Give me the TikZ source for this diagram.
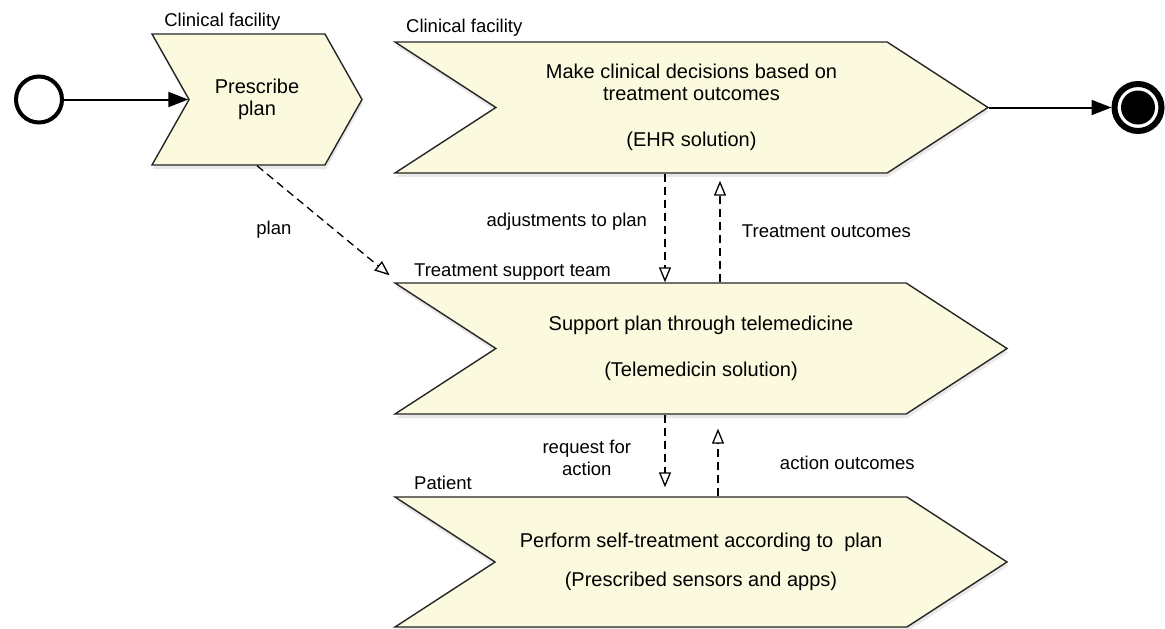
\documentclass[tikz,border=0pt]{standalone}
\usepackage{fontspec}
\setmainfont{Liberation Sans}
\usetikzlibrary{shapes.symbols}
\usetikzlibrary{arrows.meta}
\usetikzlibrary{shadows}

\definecolor{activityfill}{RGB}{252,250,222}

\begin{document}
\begin{tikzpicture}[x=1pt, y=-1pt, font=\fontsize{18.5}{22}\selectfont,
		activity/.style={signal, signal from=west, signal to=east, draw=black!85, line width=1.4pt, fill=activityfill, inner sep=0pt, align=center, font=\fontsize{20}{22}\selectfont, drop shadow={opacity=0.18, shadow xshift=1pt, shadow yshift=-4pt}},
		flow/.style={line width=2pt, -{Triangle[length=20pt, width=15pt]}},
		info/.style={line width=1.3pt, dash pattern=on 8pt off 5pt, -{Triangle[open, length=15pt, width=12pt, line width=1.3pt]}},
		lane/.style={anchor=base west}]
		\useasboundingbox (0,0) rectangle (1165,629);

		%events
		\node[circle, draw, line width=4pt, minimum size=46pt, inner sep=0pt] (start) at (39,99.5) {};
		\node[circle, draw, line width=6pt, minimum size=47pt, inner sep=0pt] (stop) at (1138,107.5) {};
		\fill (stop.center) circle (17);

		%activities, one per lane
		\node[activity, signal pointer angle=121, minimum width=210pt, minimum height=131pt] (prescribe) at (257,99.5) {Prescribe\\plan};
		\node[activity, signal pointer angle=66, minimum width=593pt, minimum height=131pt] (decide) at (691.5,107.5) {Make clinical decisions based on\\treatment outcomes\\[24pt](EHR solution)};
		\node[activity, signal pointer angle=66, minimum width=612pt, minimum height=131pt] (support) at (701,348.5) {Support plan through telemedicine\\[24pt](Telemedicin solution)};
		\node[activity, signal pointer angle=66, minimum width=612pt, minimum height=130pt] (perform) at (701,562) {Perform self-treatment according to\ \ plan\\[17pt](Prescribed sensors and apps)};

		%lane names
		\node[lane] (lane1) at ([shift={(10pt,7pt)}]prescribe.north west) {Clinical facility};
		\node[lane] (lane2) at ([shift={(10pt,9pt)}]decide.north west) {Clinical facility};
		\node[lane] (lane3) at ([shift={(18pt,6pt)}]support.north west) {Treatment support team};
		\node[lane] (lane4) at ([shift={(18pt,7pt)}]perform.north west) {Patient};

		%sequence flow
		\draw[flow] (start) -- (prescribe.west);
		\draw[flow] (decide.east) -- (stop);

		%information flow
		\draw[info] (prescribe.south) -- ([shift={(-3pt,7pt)}]support.north west) node[midway, left=28pt, yshift=-9pt] {plan};
		\draw[info] ([xshift=-26.5pt]decide.south) -- ([xshift=-36pt]support.north) node[midway, left=14pt, yshift=6pt] {adjustments to plan};
		\draw[info] ([xshift=19pt]support.north) -- ([shift={(28.5pt,-7pt)}]decide.south) node[midway, right=18pt] {Treatment outcomes};
		\draw[info] ([xshift=-36pt]support.south) -- ([shift={(-36pt,9pt)}]perform.north) node[midway, left=30pt, yshift=-7pt, align=center] {request for\\action};
		\draw[info] ([xshift=17pt]perform.north) -- ([shift={(17pt,-14pt)}]support.south) node[midway, right=58pt] {action outcomes};
	\end{tikzpicture}
\end{document}
